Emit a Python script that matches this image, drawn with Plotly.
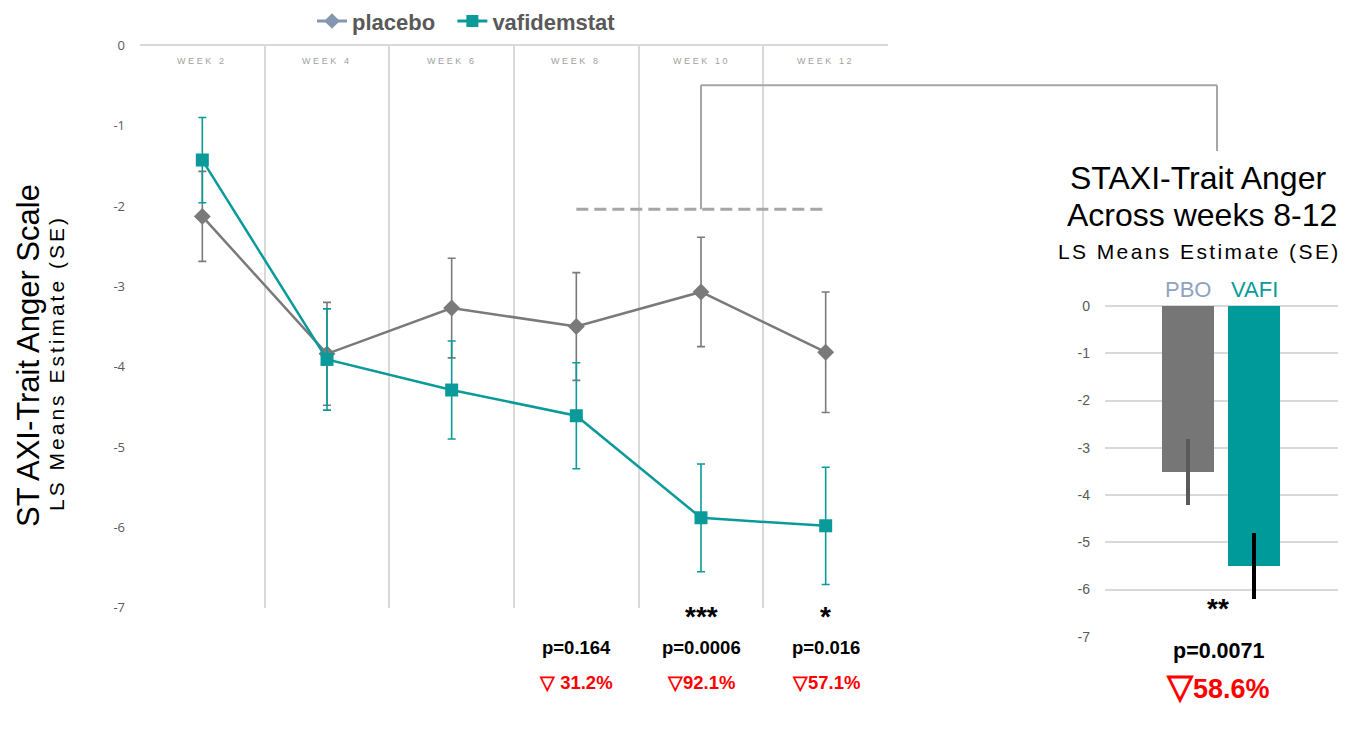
import plotly.graph_objects as go

W, H = 1345, 749

# ---------------- data ----------------
weeks = ["WEEK 2", "WEEK 4", "WEEK 6", "WEEK 8", "WEEK 10", "WEEK 12"]
placebo = [-2.13, -3.84, -3.27, -3.50, -3.07, -3.82]
placebo_se = [0.56, 0.64, 0.62, 0.67, 0.68, 0.75]
vafi = [-1.43, -3.91, -4.29, -4.61, -5.88, -5.98]
vafi_se = [0.53, 0.63, 0.61, 0.66, 0.67, 0.73]

stars = ["", "", "", "", "***", "*"]
pvals = ["", "", "", "p=0.164", "p=0.0006", "p=0.016"]
reductions = ["", "", "", "▽ 31.2%", "▽92.1%", "▽57.1%"]

bar_groups = ["PBO", "VAFI"]
bar_means = [-3.51, -5.50]
bar_se = [0.66, 0.66]
bar_stars = "**"
bar_p = "p=0.0071"
bar_red = "58.6%"

y_ticks = [0, -1, -2, -3, -4, -5, -6, -7]
y_ticktext = ["0", "-1", "-2", "-3", "-4", "-5", "-6", "-7"]

ref_line_y = -2.04  # dashed reference line across weeks 8-12
bracket_top = -0.5

# ---------------- colours ----------------
GRAY = "#7a7a7a"
TEAL = "#0b9a9a"
LEG_GRAY = "#8497b0"
GRID = "#d9d9d9"
BRACKET = "#a6a6a6"
TXT = "#595959"
FONT = "Liberation Sans"


# vertical pixel correction (page offset of the renderer)
def YP(py):
    return 1 - (py / 0.9765 - 8) / H


def XP(px):
    return px / W


# ---------------- layout geometry ----------------
x1d = [XP(140), XP(888)]
y1d = [YP(607), YP(44)]
x2d = [XP(1105), XP(1338)]
y2d = [YP(636), YP(305)]

xi = list(range(len(weeks)))

fig = go.Figure()

fig.add_trace(go.Scatter(
    x=xi, y=placebo, mode="lines+markers", showlegend=False,
    line=dict(color=GRAY, width=2.5),
    marker=dict(symbol="diamond", size=13, color=GRAY),
    error_y=dict(type="data", array=placebo_se, color=GRAY, thickness=1.6, width=4),
    xaxis="x", yaxis="y"))
fig.add_trace(go.Scatter(
    x=xi, y=vafi, mode="lines+markers", showlegend=False,
    line=dict(color=TEAL, width=2.5),
    marker=dict(symbol="square", size=13, color=TEAL),
    error_y=dict(type="data", array=vafi_se, color=TEAL, thickness=1.6, width=4),
    xaxis="x", yaxis="y"))

# legend entries
fig.add_trace(go.Scatter(
    x=[None], y=[None], mode="lines+markers", name="<b>placebo</b>\u00a0\u00a0",
    line=dict(color=LEG_GRAY, width=3), marker=dict(symbol="diamond", size=12, color=LEG_GRAY),
    xaxis="x", yaxis="y"))
fig.add_trace(go.Scatter(
    x=[None], y=[None], mode="lines+markers", name="<b>vafidemstat</b>",
    line=dict(color=TEAL, width=3), marker=dict(symbol="square", size=12, color=TEAL),
    xaxis="x", yaxis="y"))

# bars
bar_cols = ["#767676", "#009a9a"]
err_cols = ["#5a5a5a", "#000000"]
for i in range(2):
    fig.add_trace(go.Bar(
        x=[i], y=[bar_means[i]], width=0.79, showlegend=False,
        marker=dict(color=bar_cols[i], line=dict(width=0)),
        error_y=dict(type="data", array=[bar_se[i]], color=err_cols[i], thickness=4, width=2),
        xaxis="x2", yaxis="y2"))

annotations = []


def ann(x, y, text, size, color="#000", xref="paper", yref="paper", family=FONT, angle=0):
    annotations.append(dict(x=x, y=y, xref=xref, yref=yref, text=text, showarrow=False,
                            xanchor="center", yanchor="middle", textangle=angle,
                            font=dict(size=size, color=color, family=family)))


# week labels inside top of left plot
for i, w in enumerate(weeks):
    ann(i, YP(60), '<span style="letter-spacing:2.6px">' + w + '</span>', 9, "#a0a0a0", xref="x")

# stars, p-values, reductions
for i in xi:
    if stars[i]:
        ann(i, YP(616), "<b>" + stars[i] + "</b>", 28, xref="x")
    if pvals[i]:
        ann(i, YP(647), "<b>" + pvals[i] + "</b>", 18.5, xref="x")
    if reductions[i]:
        ann(i, YP(682), "<b>" + reductions[i] + "</b>", 18.5, "#ff0000", xref="x")

# left axis titles
ann(XP(29), YP(355), "ST AXI-Trait Anger Scale", 31, angle=-90)
ann(XP(57), YP(362), '<span style="letter-spacing:3px">LS Means Estimate (SE)</span>', 21, angle=-90)

# right chart titles
ann(XP(1198), YP(177), "STAXI-Trait Anger", 32)
ann(XP(1202), YP(214), "Across weeks 8-12", 32)
ann(XP(1199), YP(250), '<span style="letter-spacing:2.4px">LS Means Estimate (SE)</span>', 21)

grp_cols = ["#8fa3bf", TEAL]
for i, g in enumerate(bar_groups):
    ann(i, YP(288), g, 22, grp_cols[i], xref="x2")

mid = 0.5 * (0 + 1) - 0.04
ann(mid, YP(608), "<b>" + bar_stars + "</b>", 28, xref="x2")
ann(mid, YP(650), "<b>" + bar_p + "</b>", 21.5, xref="x2")
ann(mid, YP(685), '<b><span style="font-size:34px">▽</span>' + bar_red + "</b>", 27, "#ff0000", xref="x2")


def ypaper_left(v):
    return y1d[0] + (v + 7) / 7 * (y1d[1] - y1d[0])


def xpaper_left(v):
    return x1d[0] + (v + 0.5) / 6 * (x1d[1] - x1d[0])


shapes = [
    dict(type="line", xref="x", yref="y", x0=3, x1=5, y0=ref_line_y, y1=ref_line_y,
         line=dict(color=BRACKET, width=3, dash="12px,6px")),
    dict(type="line", xref="x", yref="y", x0=4, x1=4, y0=ref_line_y, y1=bracket_top,
         line=dict(color=BRACKET, width=2)),
    dict(type="line", xref="paper", yref="paper", x0=xpaper_left(4), x1=XP(1217),
         y0=ypaper_left(bracket_top), y1=ypaper_left(bracket_top), line=dict(color=BRACKET, width=2)),
    dict(type="line", xref="paper", yref="paper", x0=XP(1217), x1=XP(1217),
         y0=ypaper_left(bracket_top), y1=YP(150), line=dict(color=BRACKET, width=2)),
]

fig.update_layout(
    width=W, height=H, margin=dict(l=0, r=0, t=0, b=0),
    paper_bgcolor="white", plot_bgcolor="white",
    font=dict(family=FONT, color=TXT),
    showlegend=True,
    legend=dict(orientation="h", x=XP(312), y=YP(20), xanchor="left", yanchor="middle",
                font=dict(size=22, color=TXT, family=FONT), itemwidth=30,
                bgcolor="rgba(0,0,0,0)"),
    xaxis=dict(domain=x1d, range=[-0.5, 5.5], tickvals=[-0.5, 0.5, 1.5, 2.5, 3.5, 4.5, 5.5],
               showticklabels=False, showgrid=True, gridcolor=GRID, gridwidth=1.5,
               zeroline=False, showline=False, ticks="", anchor="y", fixedrange=True),
    yaxis=dict(domain=y1d, range=[-7, 0], tickvals=y_ticks, ticktext=y_ticktext, showgrid=False,
               zeroline=True, zerolinecolor=GRID, zerolinewidth=2, showline=False, ticks="",
               tickfont=dict(size=13, color=TXT, family="Open Sans"), ticklabelstandoff=14,
               anchor="x", fixedrange=True),
    xaxis2=dict(domain=x2d, range=[-1.258, 2.273], showticklabels=False, showgrid=False,
                zeroline=False, showline=False, ticks="", anchor="y2", fixedrange=True),
    yaxis2=dict(domain=y2d, range=[-7, 0], tickvals=y_ticks, ticktext=y_ticktext, showgrid=True,
                gridcolor=GRID, gridwidth=1.5, zeroline=True, zerolinecolor=GRID, zerolinewidth=1.5,
                ticks="", tickfont=dict(size=14, color=TXT, family=FONT),
                ticklabelstandoff=14, anchor="x2", fixedrange=True),
    annotations=annotations, shapes=shapes, bargap=0,
)

fig.write_html("out.html")
